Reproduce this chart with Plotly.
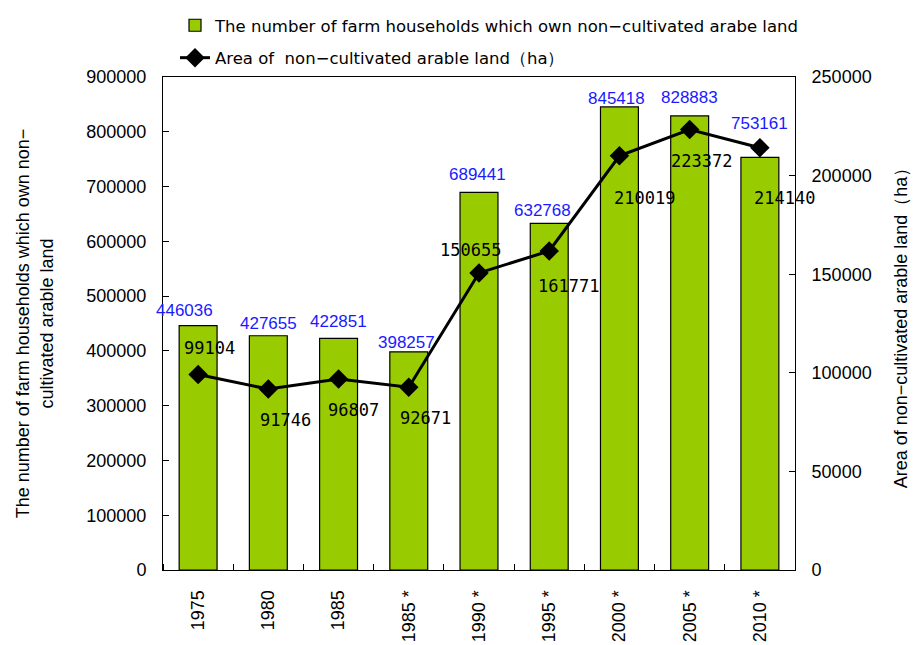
import plotly.graph_objects as go

categories = ["1975", "1980", "1985", "1985 *", "1990 *", "1995 *", "2000 *", "2005 *", "2010 *"]
households = [446036, 427655, 422851, 398257, 689441, 632768, 845418, 828883, 753161]
area_ha = [99104, 91746, 96807, 92671, 150655, 161771, 210019, 223372, 214140]

# label offsets in pixels (dx, dy up)
bar_lbl_dx = [-14, 0, 0, -2, -2, -7, -3, 0, 0]
bar_lbl_dy = [15, 12, 17, 9, 18, 13, 8, 18, 34]
line_lbl_dx = [11, 17, 15, 17, -9, 19, 25, 12, 25]
line_lbl_dy = [27, -31, -31, -31, 23, -35, -42, -31, -50]

xpos = list(range(len(categories)))
bounds = [i - 0.5 for i in range(len(categories) + 1)]

fig = go.Figure()
fig.add_trace(go.Bar(
    x=xpos, y=households,
    name="The number of farm households which own non−cultivated arabe land",
    marker=dict(color="#99CC00", line=dict(color="black", width=1.2)),
    legendgroup="a", yaxis="y",
))
fig.add_trace(go.Scatter(
    x=xpos, y=area_ha, yaxis="y2",
    name="Area of  non−cultivated arable land（ha）",
    mode="lines+markers",
    line=dict(color="black", width=3),
    marker=dict(symbol="diamond", size=15, color="black"),
    legendgroup="b",
))

ann = []
for i in xpos:
    ann.append(dict(x=i, y=households[i], xref="x", yref="y", text=f"{households[i]}",
                    showarrow=False, xshift=bar_lbl_dx[i], yshift=bar_lbl_dy[i],
                    font=dict(family="Liberation Sans, Arial", size=17, color="#1a1aff")))
    ann.append(dict(x=i, y=area_ha[i], xref="x", yref="y2", text=f"{area_ha[i]}",
                    showarrow=False, xshift=line_lbl_dx[i], yshift=line_lbl_dy[i],
                    font=dict(family="DejaVu Sans Mono", size=17, color="black")))

tickfont = dict(family="Liberation Sans, Arial", size=18, color="black")
titlefont = dict(family="Liberation Sans, Arial", size=18, color="black")
fig.update_layout(
    width=911, height=637,
    margin=dict(l=155, r=124, t=69, b=75),
    paper_bgcolor="white", plot_bgcolor="white",
    bargap=0.46,
    showlegend=True,
    legend=dict(x=0.019, y=1.0, xref="paper", yref="container", xanchor="left", yanchor="top",
                traceorder="grouped", tracegroupgap=8,
                font=dict(family="DejaVu Sans", size=16.5, color="black"),
                bgcolor="rgba(0,0,0,0)"),
    xaxis=dict(range=[-0.5, len(categories) - 0.5], tickmode="array", tickvals=xpos,
               ticktext=categories, ticks="", showline=True, linecolor="black", linewidth=1,
               mirror=True, tickangle=-90, tickfont=tickfont, ticklabelstandoff=12,
               showgrid=False, zeroline=False, automargin=False,
               minor=dict(tickmode="array", tickvals=bounds, ticks="inside", ticklen=6,
                          tickcolor="black", showgrid=False)),
    yaxis=dict(range=[0, 900000], dtick=100000, tickformat="d", showline=True, linecolor="black",
               linewidth=1, mirror=True, ticks="inside", ticklen=6, tickcolor="black",
               tickfont=tickfont, ticklabelstandoff=12, showgrid=False, zeroline=False,
               automargin=False,
               title=dict(text="The number of farm households which own non−<br>cultivated arable land",
                          font=titlefont, standoff=28)),
    yaxis2=dict(range=[0, 250000], dtick=50000, tickformat="d", overlaying="y", side="right",
                showline=True, linecolor="black", linewidth=1, ticks="inside", ticklen=6,
                tickcolor="black", tickfont=tickfont, ticklabelstandoff=12, showgrid=False,
                zeroline=False, automargin=False,
                title=dict(text="\u00a0" * 10 + "Area of non−cultivated arable land（ha）",
                           font=titlefont, standoff=23)),
    annotations=ann,
)
fig.write_html("out.html")
